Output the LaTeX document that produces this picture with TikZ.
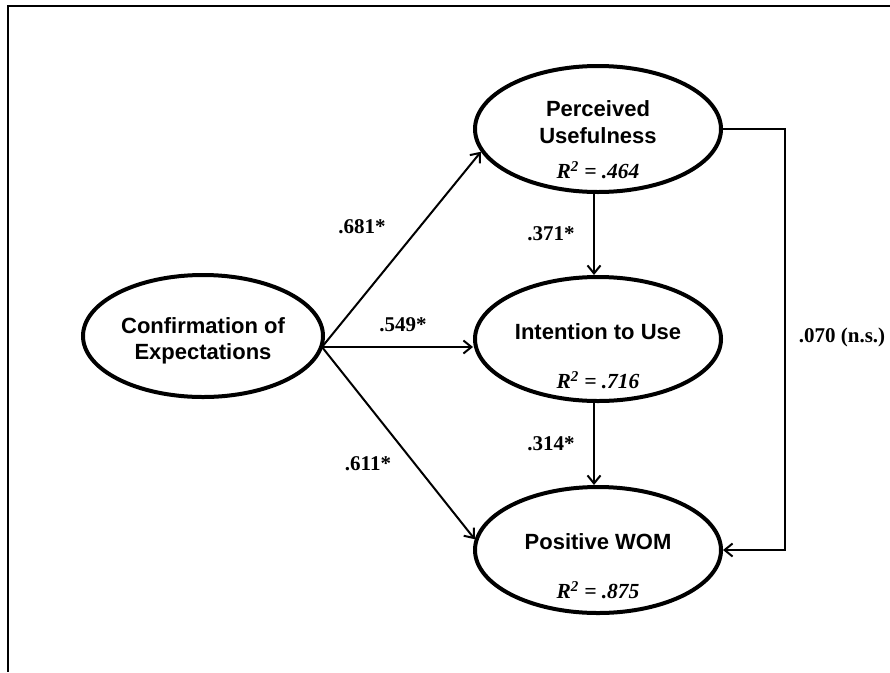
\documentclass[tikz,border=0pt]{standalone}
\usepackage{fontspec}
\setmainfont{Liberation Serif}
\newfontfamily\arialf{Liberation Sans}
\usetikzlibrary{arrows.meta,shapes.geometric}
\tikzset{
  ell/.style={ellipse, draw, line width=4pt, minimum width=246pt, minimum height=126pt, inner sep=0pt, fill=white},
  nm/.style={align=center, inner sep=0pt, font=\arialf\bfseries\fontsize{22}{26.5}\selectfont},
  rsq/.style={inner sep=0pt, font=\bfseries\itshape\fontsize{21.5}{24}\selectfont},
  coef/.style={inner sep=0pt, font=\bfseries\fontsize{21}{24}\selectfont},
  path/.style={line width=2pt, -{Straight Barb[length=8pt,width=13pt,line width=2pt]}},
  frame/.style={line width=2pt}
}
\begin{document}
\begin{tikzpicture}[x=1pt,y=-1pt]
\useasboundingbox (0,0) rectangle (890,672);
\fill[white] (0,0) rectangle (890,672);
\draw[frame] (890,6) -- (8,6) -- (8,672);

\node[ell, minimum width=240pt, minimum height=122pt] (conf) at (203,336) {};
\node[nm] (conft) at (203,341) {Confirmation of\\Expectations};

\node[ell] (pu) at (598,129) {};
\node[nm] (put) at (598,122) {Perceived\\Usefulness};
\node[rsq] (pur) at (598,170) {R\textsuperscript{2} = .464};

\node[ell, minimum height=124pt] (it) at (598,339) {};
\node[nm] (itt) at (598,332) {Intention to Use};
\node[rsq] (itr) at (598,380) {R\textsuperscript{2} = .716};

\node[ell] (wom) at (598,550) {};
\node[nm] (womt) at (598,542) {Positive WOM};
\node[rsq] (womr) at (598,590) {R\textsuperscript{2} = .875};

\coordinate (src) at (322,347);
\draw[path] (src) -- (pu.191);
\draw[path] (src) -- (src -| it.west);
\draw[path] (src) -- (wom.175.5);
\draw[path] ([xshift=-4pt]pu.south) -- ([xshift=-4pt]it.north);
\draw[path] ([xshift=-4pt]it.south) -- ([xshift=-4pt]wom.north);
\draw[path] (pu.east) -- ++(62,0) |- (wom.east);

\node[coef] (c1) at (362,227) {.681*};
\node[coef] (c2) at (403,325) {.549*};
\node[coef] (c3) at (368,464) {.611*};
\node[coef] (c4) at (551,234) {.371*};
\node[coef] (c5) at (551,444) {.314*};
\node[coef] (c6) at (842,337) {.070 (n.s.)};
\end{tikzpicture}
\end{document}
